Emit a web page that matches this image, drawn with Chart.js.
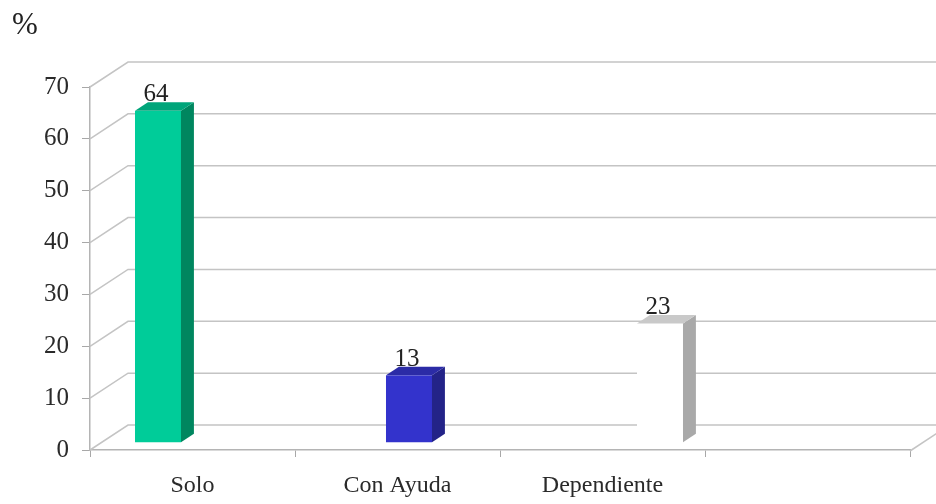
<!DOCTYPE html>
<html>
<head>
<meta charset="utf-8">
<script src="https://cdn.jsdelivr.net/npm/chart.js@4.4.1/dist/chart.umd.min.js"></script>
<style>
  html, body { margin: 0; padding: 0; background: #fff; }
  #wrap { width: 936px; height: 504px; position: relative; }
</style>
</head>
<body>
<div id="wrap"><canvas id="chartCanvas"></canvas></div>
<script>
(function() {

  var categories = ['Solo', 'Con Ayuda', 'Dependiente', ''];
  var values = [64, 13, 23];
  var yMin = 0, yMax = 70, yStep = 10;
  var unitLabel = '%';

  var frontColors = ['#00cc99', '#3333cc', '#ffffff'];
  var sideColors = ['#00865f', '#232388', '#a9a9a9'];
  var topColors = ['#00a57a', '#2b2ba6', '#c9c9c9'];

  var SERIF = '"Liberation Serif", "DejaVu Serif", serif';
  var WALL_DX = 38, WALL_DY = -25;     // depth of the back wall
  var BAR_FRONT = 0.29, BAR_BACK = 0.63; // bar depth as a share of the wall depth

  var depthPlugin = {
    id: 'depth3d',
    beforeDatasetsDraw: function(chart) {
      var ctx = chart.ctx, a = chart.chartArea, ys = chart.scales.y;
      ctx.save();

      // left wall + back wall grid
      ctx.strokeStyle = '#c4c4c4';
      ctx.lineWidth = 1.5;
      ys.ticks.forEach(function(t) {
        var y = ys.getPixelForValue(t.value);
        ctx.beginPath();
        ctx.moveTo(a.left, y);
        ctx.lineTo(a.left + WALL_DX, y + WALL_DY);
        ctx.lineTo(chart.width, y + WALL_DY);
        ctx.stroke();
      });
      // right edge of the floor
      ctx.beginPath();
      ctx.moveTo(a.right, a.bottom + 1);
      ctx.lineTo(a.right + WALL_DX, a.bottom + 1 + WALL_DY);
      ctx.stroke();

      // bars
      var meta = chart.getDatasetMeta(0);
      var fdx = WALL_DX * BAR_FRONT, fdy = WALL_DY * BAR_FRONT;
      var sdx = WALL_DX * (BAR_BACK - BAR_FRONT), sdy = WALL_DY * (BAR_BACK - BAR_FRONT);
      meta.data.forEach(function(bar, i) {
        var p = bar.getProps(['x', 'y', 'base', 'width'], true);
        var xl = p.x - p.width / 2 + fdx, xr = p.x + p.width / 2 + fdx;
        var top = p.y + fdy, base = p.base + fdy;

        ctx.fillStyle = frontColors[i];
        ctx.fillRect(xl, top, xr - xl, base - top);

        ctx.fillStyle = sideColors[i];
        ctx.beginPath();
        ctx.moveTo(xr, top); ctx.lineTo(xr + sdx, top + sdy);
        ctx.lineTo(xr + sdx, base + sdy); ctx.lineTo(xr, base);
        ctx.closePath(); ctx.fill();

        ctx.fillStyle = topColors[i];
        ctx.beginPath();
        ctx.moveTo(xl, top); ctx.lineTo(xr, top);
        ctx.lineTo(xr + sdx, top + sdy); ctx.lineTo(xl + sdx, top + sdy);
        ctx.closePath(); ctx.fill();

        ctx.fillStyle = '#222';
        ctx.font = '25px ' + SERIF;
        ctx.textAlign = 'center';
        ctx.textBaseline = 'alphabetic';
        ctx.fillText(String(values[i]), (xl + xr) / 2 - 2, top + sdy - 1);
      });

      // unit label
      ctx.fillStyle = '#222';
      ctx.font = '31px ' + SERIF;
      ctx.textAlign = 'left';
      ctx.fillText(unitLabel, 12, 34);

      ctx.restore();
      return false;
    }
  };

  var ctx = document.getElementById('chartCanvas');
  new Chart(ctx, {
    type: 'bar',
    data: {
      datasets: [{
        data: values.map(function(v, i) { return { x: i, y: v }; }),
        backgroundColor: frontColors,
        xAxisID: 'xb',
        yAxisID: 'y',
        barThickness: 46
      }]
    },
    options: {
      responsive: true,
      maintainAspectRatio: false,
      animation: false,
      layout: { padding: { top: 87, left: 0, right: 26, bottom: 0 } },
      plugins: { legend: { display: false }, tooltip: { enabled: false } },
      scales: {
        x: {
          type: 'category',
          labels: categories,
          offset: true,
          position: 'bottom',
          grid: { display: true, offset: true, drawOnChartArea: false, drawTicks: true, tickLength: 7, color: '#a8a8a8' },
          border: { display: true, color: '#b4b4b4', width: 1.5 },
          ticks: { color: '#2a2a2a', font: { family: SERIF, size: 24 }, padding: 14, maxRotation: 0, autoSkip: false },
          afterFit: function(s) { s.height = 54; }
        },
        xb: {
          type: 'linear',
          display: false,
          offset: false,
          min: -0.227,
          max: 3.04
        },
        y: {
          min: yMin,
          max: yMax,
          ticks: { stepSize: yStep, color: '#2a2a2a', font: { family: SERIF, size: 25 }, padding: 13 },
          grid: { display: true, drawOnChartArea: false, drawTicks: true, tickLength: 8, color: '#a8a8a8' },
          border: { display: true, color: '#b4b4b4', width: 1.5 },
          afterFit: function(s) { s.width = 90; }
        }
      }
    },
    plugins: [depthPlugin]
  });

})();
</script>
</body>
</html>
